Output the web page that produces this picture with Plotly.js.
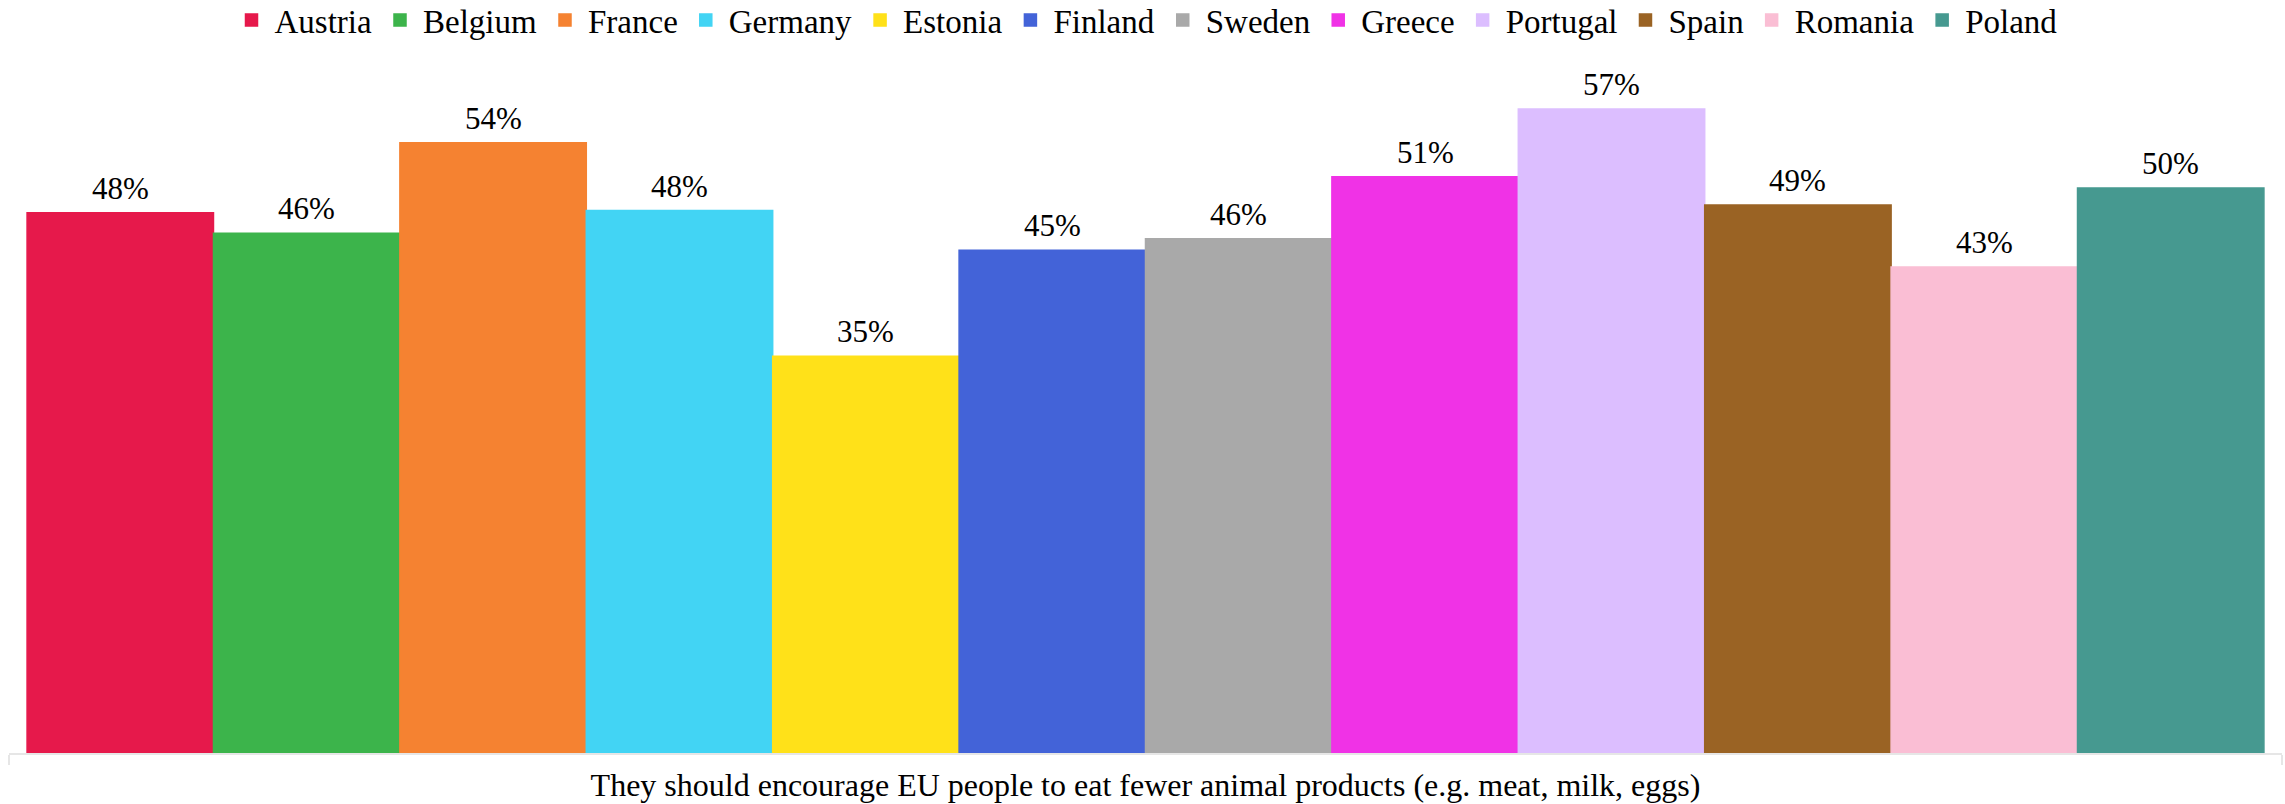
<!DOCTYPE html>
<html>
<head>
<meta charset="utf-8">
<script src="https://cdn.plot.ly/plotly-3.0.1.min.js"></script>
<style>html,body{margin:0;padding:0;background:#fff;}#chart{width:2285px;height:804px;}</style>
</head>
<body>
<div id="chart"></div>
<script>
const countries = ["Austria","Belgium","France","Germany","Estonia","Finland","Sweden","Greece","Portugal","Spain","Romania","Poland"];
const values = [47.8, 46, 54, 48, 35.1, 44.5, 45.5, 51, 57, 48.5, 43, 50];
const colors = ["#e6194B","#3cb44b","#f58231","#42d4f4","#ffe119","#4363d8","#a9a9a9","#f032e6","#dcbeff","#9A6324","#fabed4","#469990"];
const category = "They should encourage EU people to eat fewer animal products (e.g. meat, milk, eggs)";

const FONT = "Liberation Serif, Times New Roman, serif";
const traces = countries.map((c, i) => ({
  type: "bar",
  name: c,
  x: [i],
  y: [values[i]],
  width: [1],
  marker: {color: colors[i], line: {width: 1.5, color: colors[i]}},
  hoverinfo: "none"
}));

const annotations = countries.map((c, i) => ({
  x: i, y: values[i], xref: "x", yref: "y",
  text: Math.round(values[i]) + "%",
  showarrow: false, yanchor: "bottom", xanchor: "center", yshift: 5,
  font: {family: FONT, size: 31, color: "#000"}
}));

const n = countries.length;
const layout = {
  width: 2285, height: 804,
  margin: {l: 9, r: 3, t: 75, b: 51, pad: 0, autoexpand: false},
  paper_bgcolor: "#fff", plot_bgcolor: "#fff",
  barmode: "overlay",
  font: {family: FONT, size: 30, color: "#000"},
  showlegend: true,
  legend: {orientation: "h", x: 0.5, xanchor: "center", y: 1.081, yanchor: "middle", yref: "paper",
           itemwidth: 36,
           font: {family: FONT, size: 33, color: "#000"}, itemclick: false, tracegroupgap: 0, traceorder: "normal"},
  annotations: annotations,
  xaxis: {
    type: "linear", range: [-0.597, n - 1 + 0.597], fixedrange: true, automargin: false,
    tickmode: "array", tickvals: [(n - 1) / 2], ticktext: [category], ticks: "",
    tickfont: {family: FONT, size: 32, color: "#000"},
    ticklabelstandoff: 3,
    showline: true, linecolor: "#e6e6e6", linewidth: 2,
    showgrid: false, zeroline: false,
    minor: {tickmode: "array", tickvals: [-0.597, n - 1 + 0.597], ticks: "outside", ticklen: 10, tickcolor: "#e6e6e6", tickwidth: 2, showgrid: false}
  },
  yaxis: {range: [0, 60], visible: false, showgrid: false, zeroline: false, fixedrange: true, automargin: false}
};

Plotly.newPlot("chart", traces, layout, {displayModeBar: false, staticPlot: true});
</script>
</body>
</html>
